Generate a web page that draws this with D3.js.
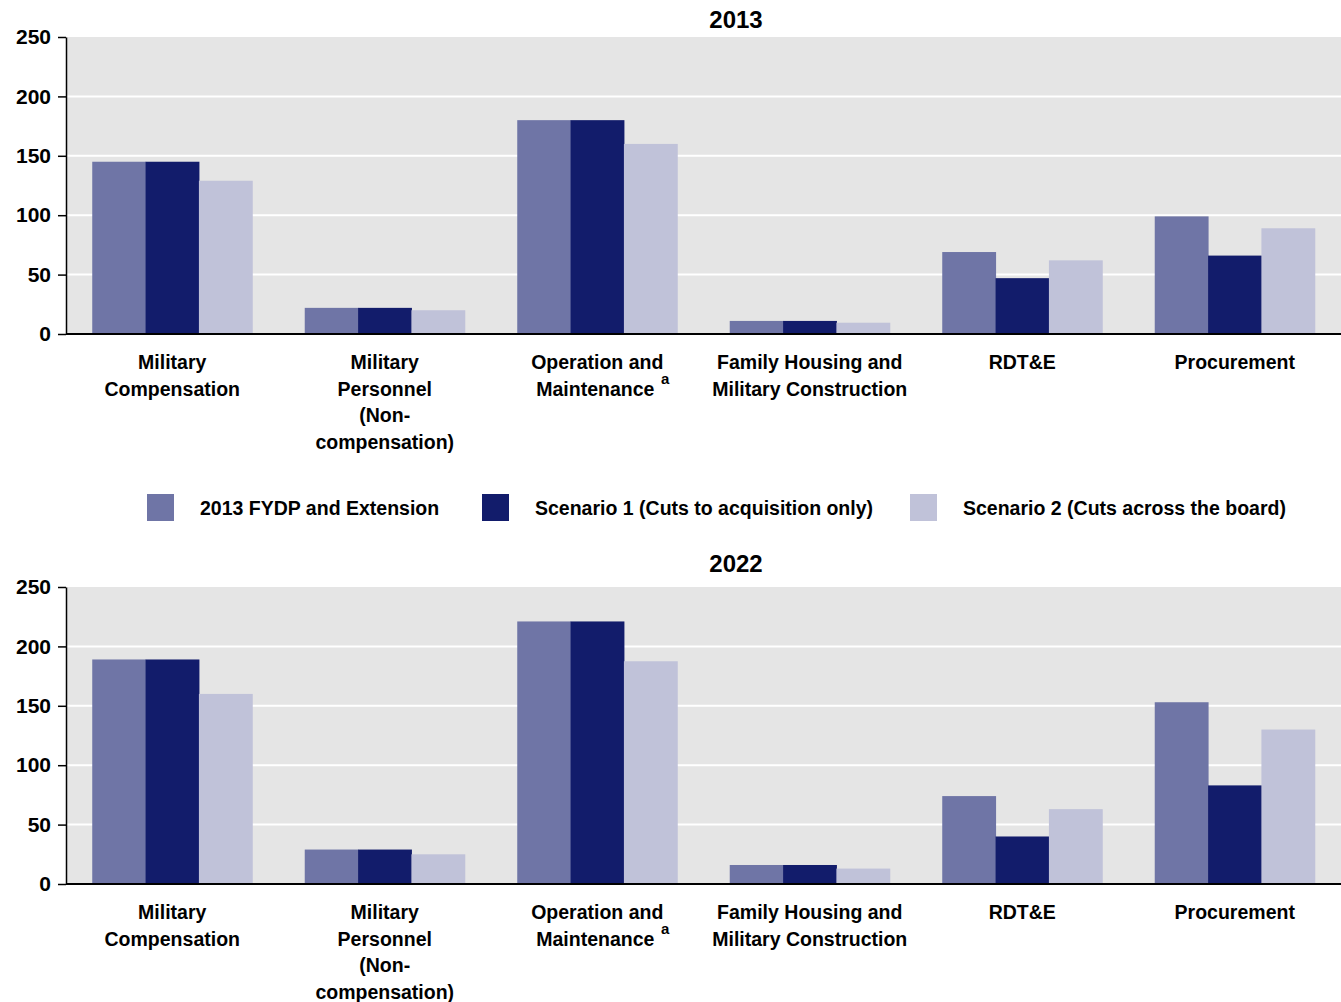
<!DOCTYPE html>
<html>
<head>
<meta charset="utf-8">
<script src="https://cdn.jsdelivr.net/npm/d3@7"></script>
<style>
  html, body { margin: 0; padding: 0; background: #fff; }
  svg { display: block; font-family: "Liberation Sans", Arial, sans-serif; font-weight: bold; }
</style>
</head>
<body>
<svg id="chart" width="1341" height="1002"></svg>
<script>
// ---- Data ----
const categories = [
  ["Military", "Compensation"],
  ["Military", "Personnel", "(Non-", "compensation)"],
  ["Operation and", "Maintenance"],
  ["Family Housing and", "Military Construction"],
  ["RDT&E"],
  ["Procurement"]
];
const footnoteCategory = 2; // "Maintenance" carries superscript a
const seriesNames = [
  "2013 FYDP and Extension",
  "Scenario 1 (Cuts to acquisition only)",
  "Scenario 2 (Cuts across the board)"
];
const seriesColors = ["#6f75a6", "#121c6b", "#c0c2d9"];

const values2013_fydp = [145, 22, 180, 11, 69, 99];
const values2013_s1   = [145, 22, 180, 11, 47, 66];
const values2013_s2   = [129, 20, 160, 9.5, 62, 89];

const values2022_fydp = [189, 29, 221, 16, 74, 153];
const values2022_s1   = [189, 29, 221, 16, 40, 83];
const values2022_s2   = [160, 25, 187.5, 13, 63, 130];

const yTicks = [0, 50, 100, 150, 200, 250];

// ---- Layout ----
const svg = d3.select("#chart");
const plotLeft = 66, plotRight = 1341;
const plotHeight = 297;

const x0 = d3.scaleBand().domain(d3.range(categories.length)).range([plotLeft, plotRight]).paddingInner(0.247).paddingOuter(0.1235);
const x1 = d3.scaleBand().domain(d3.range(seriesNames.length)).range([0, x0.bandwidth()]);

function drawChart(top, title, titleGap, seriesValues) {
  const y = d3.scaleLinear().domain([0, 250]).range([top + plotHeight, top]);
  const g = svg.append("g");

  // background
  g.append("rect").attr("x", plotLeft).attr("y", y(250)).attr("width", plotRight - plotLeft)
    .attr("height", y(0) - y(250)).attr("fill", "#e5e5e5");

  // gridlines
  g.selectAll("line.grid").data(yTicks.filter(t => t > 0 && t < 250)).join("line")
    .attr("class", "grid").attr("x1", plotLeft).attr("x2", plotRight)
    .attr("y1", d => y(d)).attr("y2", d => y(d)).attr("stroke", "#fff").attr("stroke-width", 2);

  // bars
  categories.forEach((c, ci) => {
    seriesValues.forEach((vals, si) => {
      g.append("rect")
        .attr("x", x0(ci) + x1(si))
        .attr("y", y(vals[ci]))
        .attr("width", x1.bandwidth() + 0.5)
        .attr("height", y(0) - y(vals[ci]))
        .attr("fill", seriesColors[si]);
    });
  });

  // y axis
  const yAxis = g.append("g").attr("transform", `translate(${plotLeft},0)`)
    .call(d3.axisLeft(y).tickValues(yTicks).tickSize(8).tickSizeOuter(0).tickPadding(7));
  yAxis.select(".domain").attr("stroke", "#000").attr("stroke-width", 1.5);
  yAxis.selectAll(".tick line").attr("stroke", "#000").attr("stroke-width", 1.5);
  yAxis.selectAll(".tick text").attr("font-size", 21).attr("font-weight", "bold")
    .attr("font-family", "Liberation Sans, Arial, sans-serif").attr("fill", "#000");

  // x axis
  const xAxis = g.append("g").attr("transform", `translate(0,${y(0)})`)
    .call(d3.axisBottom(x0).tickSize(0).tickSizeOuter(0).tickFormat(""));
  xAxis.select(".domain").attr("stroke", "#000").attr("stroke-width", 2)
    .attr("d", `M${plotLeft},0H${plotRight}`);
  xAxis.selectAll(".tick").each(function(ci) {
    const t = d3.select(this).select("text")
      .attr("font-size", 19.5).attr("font-weight", "bold")
      .attr("font-family", "Liberation Sans, Arial, sans-serif").attr("fill", "#000")
      .attr("y", 0).attr("dy", null);
    categories[ci].forEach((line, li) => {
      t.append("tspan").attr("x", 0).attr("y", 35 + li * 26.5).text(line);
    });
    if (ci === footnoteCategory) {
      const last = categories[ci].length - 1;
      t.selectAll("tspan").filter((d, i) => i === last).text(categories[ci][last] + "\u2009 ");
      d3.select(this).append("text").attr("x", 68).attr("y", 35 + last * 26.5 - 12)
        .attr("font-size", 15).attr("font-weight", "bold").attr("fill", "#000")
        .attr("font-family", "Liberation Sans, Arial, sans-serif").attr("text-anchor", "middle").text("a");
    }
  });

  // title
  svg.append("text").attr("x", 736).attr("y", top - titleGap).attr("text-anchor", "middle")
    .attr("font-size", 24).attr("font-weight", "bold").attr("fill", "#000").text(title);
}

drawChart(37, "2013", 9, [values2013_fydp, values2013_s1, values2013_s2]);
drawChart(587, "2022", 15, [values2022_fydp, values2022_s1, values2022_s2]);

// legend
const legendX = [147, 482, 910];
const legend = svg.append("g");
seriesNames.forEach((name, i) => {
  legend.append("rect").attr("x", legendX[i]).attr("y", 494).attr("width", 27).attr("height", 27)
    .attr("fill", seriesColors[i]);
  legend.append("text").attr("x", legendX[i] + 53).attr("y", 515)
    .attr("font-size", 19.5).attr("font-weight", "bold").attr("fill", "#000").text(name);
});
</script>
</body>
</html>
